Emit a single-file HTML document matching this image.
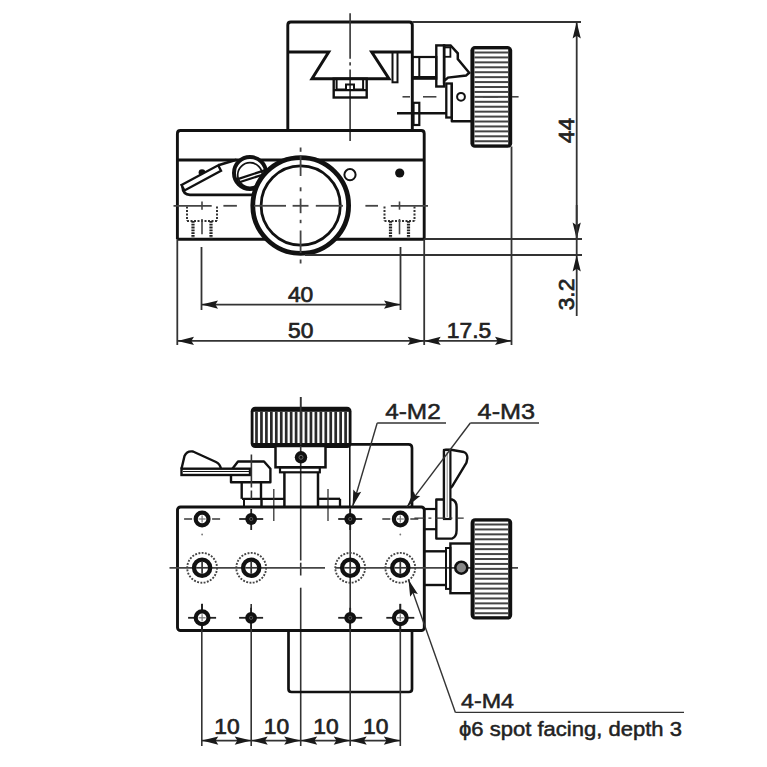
<!DOCTYPE html>
<html><head><meta charset="utf-8"><style>
html,body{margin:0;padding:0;background:#fff;}
svg{display:block;}
text{font-family:"Liberation Sans",sans-serif;}
</style></head><body>
<svg width="767" height="767" viewBox="0 0 767 767">
<rect width="767" height="767" fill="#fff"/>
<path d="M287.8,130.5 V25 Q287.8,22 290.8,22 H409.3 Q412.3,22 412.3,25 V130.5" stroke="#111" stroke-width="2.9" fill="none" stroke-linejoin="round" />
<line x1="412.3" y1="22" x2="581" y2="22" stroke="#333" stroke-width="1.8" stroke-linecap="butt"/>
<line x1="350.1" y1="13.2" x2="350.1" y2="58.8" stroke="#333" stroke-width="1.6" stroke-linecap="butt"/>
<line x1="350.1" y1="62.3" x2="350.1" y2="65.5" stroke="#333" stroke-width="1.6" stroke-linecap="butt"/>
<line x1="350.1" y1="69.5" x2="350.1" y2="141" stroke="#333" stroke-width="1.6" stroke-linecap="butt"/>
<polyline points="287.8,52 328.7,52 312,78.7 389,78.7 371.7,52 412.3,52" stroke="#111" stroke-width="3" fill="none" stroke-linejoin="miter"/>
<rect x="333.7" y="78.7" width="33.0" height="18.799999999999997" rx="0" stroke="#111" stroke-width="2.4" fill="none"/>
<line x1="333.7" y1="90.2" x2="366.7" y2="90.2" stroke="#111" stroke-width="2.2" stroke-linecap="butt"/>
<line x1="336.6" y1="78.7" x2="336.6" y2="90" stroke="#111" stroke-width="2" stroke-linecap="butt"/>
<line x1="363.1" y1="78.7" x2="363.1" y2="90" stroke="#111" stroke-width="2" stroke-linecap="butt"/>
<polyline points="336.6,89.5 346,89.5 346,84.5 354,84.5 354,89.5 363.1,89.5" stroke="#111" stroke-width="2" fill="none" stroke-linejoin="miter"/>
<rect x="392.5" y="52" width="5.0" height="30.299999999999997" rx="0" stroke="#111" stroke-width="2" fill="none"/>
<rect x="412.3" y="57" width="24.0" height="21.700000000000003" rx="0" stroke="#111" stroke-width="2.2" fill="none"/>
<line x1="419.3" y1="57" x2="419.3" y2="78.7" stroke="#111" stroke-width="2" stroke-linecap="butt"/>
<line x1="412.3" y1="77.5" x2="436.3" y2="77.5" stroke="#111" stroke-width="3" stroke-linecap="butt"/>
<rect x="436.3" y="45.4" width="7.800000000000011" height="41.1" rx="0" stroke="#111" stroke-width="2.4" fill="none"/>
<polygon points="444.1,45.4 450.6,45.4 457.8,53.3 457.8,59.1 469.2,72.8 466,75.6 448,77.6 444.1,81" stroke="#111" stroke-width="2.5" fill="none" stroke-linejoin="miter"/>
<rect x="444.1" y="47.4" width="6.2999999999999545" height="9.399999999999999" rx="0" stroke="#111" stroke-width="1.8" fill="none"/>
<rect x="446.3" y="83.5" width="5.5" height="34.0" rx="0" stroke="#111" stroke-width="2.3" fill="none"/>
<path d="M451.8,84 V121.3 H471.5" stroke="#111" stroke-width="2.4" fill="none" stroke-linejoin="round" />
<circle cx="461" cy="96.8" r="3.9" stroke="#111" stroke-width="2" fill="none"/>
<rect x="413.5" y="102.8" width="5.800000000000011" height="22.200000000000003" rx="0" stroke="#111" stroke-width="2.2" fill="none"/>
<line x1="397" y1="113.2" x2="446.7" y2="113.2" stroke="#111" stroke-width="2.4" stroke-linecap="butt"/>
<rect x="470.4" y="46.1" width="41.80000000000007" height="101.6" rx="4.5" fill="#111"/>
<rect x="474.4" y="49.4" width="33.80000000000007" height="95.0" fill="#fff"/>
<rect x="474.4" y="51.50" width="33.80000000000007" height="2" fill="#444"/>
<rect x="474.4" y="56.43" width="33.80000000000007" height="2" fill="#444"/>
<rect x="474.4" y="61.36" width="33.80000000000007" height="2" fill="#444"/>
<rect x="474.4" y="66.29" width="33.80000000000007" height="2" fill="#444"/>
<rect x="474.4" y="71.22" width="33.80000000000007" height="2" fill="#444"/>
<rect x="474.4" y="76.15" width="33.80000000000007" height="2" fill="#444"/>
<rect x="474.4" y="81.08" width="33.80000000000007" height="2" fill="#444"/>
<rect x="474.4" y="86.01" width="33.80000000000007" height="2" fill="#444"/>
<rect x="474.4" y="90.94" width="33.80000000000007" height="2" fill="#444"/>
<rect x="474.4" y="95.87" width="33.80000000000007" height="2" fill="#444"/>
<rect x="474.4" y="100.80" width="33.80000000000007" height="2" fill="#444"/>
<rect x="474.4" y="105.73" width="33.80000000000007" height="2" fill="#444"/>
<rect x="474.4" y="110.66" width="33.80000000000007" height="2" fill="#444"/>
<rect x="474.4" y="115.59" width="33.80000000000007" height="2" fill="#444"/>
<rect x="474.4" y="120.52" width="33.80000000000007" height="2" fill="#444"/>
<rect x="474.4" y="125.45" width="33.80000000000007" height="2" fill="#444"/>
<rect x="474.4" y="130.38" width="33.80000000000007" height="2" fill="#444"/>
<rect x="474.4" y="135.31" width="33.80000000000007" height="2" fill="#444"/>
<rect x="474.4" y="140.24" width="33.80000000000007" height="2" fill="#444"/>
<line x1="402.5" y1="96.8" x2="410" y2="96.8" stroke="#444" stroke-width="1.6" stroke-linecap="butt"/>
<line x1="423" y1="96.8" x2="436.4" y2="96.8" stroke="#444" stroke-width="1.6" stroke-linecap="butt"/>
<line x1="483" y1="96.8" x2="498" y2="96.8" stroke="#444" stroke-width="1.6" stroke-linecap="butt"/>
<line x1="512" y1="96.8" x2="518.6" y2="96.8" stroke="#444" stroke-width="1.6" stroke-linecap="butt"/>
<line x1="511.5" y1="146.5" x2="511.5" y2="345" stroke="#333" stroke-width="1.8" stroke-linecap="butt"/>
<path d="M177.4,239 V133.5 Q177.4,130.5 180.4,130.5 H421.2 Q424.2,130.5 424.2,133.5 V239" stroke="#111" stroke-width="2.9" fill="none" stroke-linejoin="round" />
<line x1="177.4" y1="239.2" x2="424.2" y2="239.2" stroke="#111" stroke-width="2.9" stroke-linecap="butt"/>
<line x1="424.2" y1="239" x2="582" y2="239" stroke="#333" stroke-width="1.8" stroke-linecap="butt"/>
<line x1="177.4" y1="160" x2="424.2" y2="160" stroke="#111" stroke-width="2.9" stroke-linecap="butt"/>
<line x1="177.3" y1="239" x2="177.3" y2="345" stroke="#333" stroke-width="1.8" stroke-linecap="butt"/>
<line x1="424.2" y1="239" x2="424.2" y2="345" stroke="#333" stroke-width="1.8" stroke-linecap="butt"/>
<path d="M182.5,186.5 Q183,194.8 190,194.8 H255" stroke="#111" stroke-width="2.8" fill="none" stroke-linejoin="round" />
<line x1="218.3" y1="165.2" x2="236.5" y2="159.8" stroke="#111" stroke-width="2.7" stroke-linecap="butt"/>
<circle cx="202" cy="172.6" r="3.4" fill="#111"/>
<polygon points="181.5,185 218.2,165.3 221,170.8 184.5,190.5" stroke="#111" stroke-width="2.4" fill="#fff" stroke-linejoin="miter"/>
<circle cx="250" cy="173" r="16" stroke="#111" stroke-width="4" fill="#fff"/>
<circle cx="250" cy="175" r="12.3" stroke="#111" stroke-width="1.7" fill="none"/>
<line x1="236.2" y1="179.6" x2="264.5" y2="170.4" stroke="#111" stroke-width="2.3" stroke-linecap="butt"/>
<line x1="237" y1="183" x2="265" y2="174" stroke="#111" stroke-width="2.3" stroke-linecap="butt"/>
<line x1="187" y1="206.5" x2="187" y2="221" stroke="#333" stroke-width="2" stroke-linecap="butt" stroke-dasharray="2 1.5"/>
<line x1="217" y1="206.5" x2="217" y2="221" stroke="#333" stroke-width="2" stroke-linecap="butt" stroke-dasharray="2 1.5"/>
<line x1="187" y1="221" x2="217" y2="221" stroke="#333" stroke-width="2" stroke-linecap="butt" stroke-dasharray="2 1.5"/>
<line x1="193" y1="221" x2="193" y2="239" stroke="#222" stroke-width="3.2" stroke-linecap="butt" stroke-dasharray="1.8 1"/>
<line x1="211" y1="221" x2="211" y2="239" stroke="#222" stroke-width="3.2" stroke-linecap="butt" stroke-dasharray="1.8 1"/>
<line x1="202" y1="201.5" x2="202" y2="209.7" stroke="#444" stroke-width="1.6" stroke-linecap="butt"/>
<line x1="202" y1="219" x2="202" y2="234.3" stroke="#444" stroke-width="1.6" stroke-linecap="butt"/>
<line x1="384.5" y1="206.5" x2="384.5" y2="221" stroke="#333" stroke-width="2" stroke-linecap="butt" stroke-dasharray="2 1.5"/>
<line x1="414.5" y1="206.5" x2="414.5" y2="221" stroke="#333" stroke-width="2" stroke-linecap="butt" stroke-dasharray="2 1.5"/>
<line x1="384.5" y1="221" x2="414.5" y2="221" stroke="#333" stroke-width="2" stroke-linecap="butt" stroke-dasharray="2 1.5"/>
<line x1="390.5" y1="221" x2="390.5" y2="239" stroke="#222" stroke-width="3.2" stroke-linecap="butt" stroke-dasharray="1.8 1"/>
<line x1="408.5" y1="221" x2="408.5" y2="239" stroke="#222" stroke-width="3.2" stroke-linecap="butt" stroke-dasharray="1.8 1"/>
<line x1="399.5" y1="201.5" x2="399.5" y2="209.7" stroke="#444" stroke-width="1.6" stroke-linecap="butt"/>
<line x1="399.5" y1="219" x2="399.5" y2="234.3" stroke="#444" stroke-width="1.6" stroke-linecap="butt"/>
<line x1="173.5" y1="205.8" x2="211.7" y2="205.8" stroke="#444" stroke-width="1.8" stroke-linecap="butt"/>
<line x1="223.4" y1="205.8" x2="236.9" y2="205.8" stroke="#444" stroke-width="1.8" stroke-linecap="butt"/>
<line x1="365.4" y1="205.8" x2="378" y2="205.8" stroke="#444" stroke-width="1.8" stroke-linecap="butt"/>
<line x1="390.8" y1="205.8" x2="428" y2="205.8" stroke="#444" stroke-width="1.8" stroke-linecap="butt"/>
<circle cx="300.7" cy="205.5" r="47.9" stroke="#111" stroke-width="4.8" fill="#fff"/>
<circle cx="300.7" cy="205.5" r="39.6" stroke="#111" stroke-width="2.8" fill="none"/>
<line x1="300.6" y1="147.5" x2="300.6" y2="151.8" stroke="#444" stroke-width="1.8" stroke-linecap="butt"/>
<line x1="300.6" y1="156" x2="300.6" y2="176" stroke="#444" stroke-width="1.8" stroke-linecap="butt"/>
<line x1="300.6" y1="187.3" x2="300.6" y2="191.3" stroke="#444" stroke-width="1.8" stroke-linecap="butt"/>
<line x1="300.6" y1="198.6" x2="300.6" y2="213.2" stroke="#444" stroke-width="1.8" stroke-linecap="butt"/>
<line x1="300.6" y1="219.8" x2="300.6" y2="223.2" stroke="#444" stroke-width="1.8" stroke-linecap="butt"/>
<line x1="300.6" y1="230.5" x2="300.6" y2="253" stroke="#444" stroke-width="1.8" stroke-linecap="butt"/>
<line x1="300.6" y1="259.5" x2="300.6" y2="263.5" stroke="#444" stroke-width="1.8" stroke-linecap="butt"/>
<line x1="254" y1="205.8" x2="286" y2="205.8" stroke="#444" stroke-width="1.8" stroke-linecap="butt"/>
<line x1="292.6" y1="205.8" x2="308.5" y2="205.8" stroke="#444" stroke-width="1.8" stroke-linecap="butt"/>
<line x1="315.8" y1="205.8" x2="343" y2="205.8" stroke="#444" stroke-width="1.8" stroke-linecap="butt"/>
<line x1="305" y1="255" x2="582" y2="255" stroke="#333" stroke-width="1.8" stroke-linecap="butt"/>
<circle cx="350" cy="174.7" r="5.6" stroke="#111" stroke-width="2" fill="#fff"/>
<circle cx="399.7" cy="173" r="4.6" fill="#111"/>
<line x1="201.5" y1="247" x2="201.5" y2="310" stroke="#333" stroke-width="1.8" stroke-linecap="butt"/>
<line x1="400.5" y1="247" x2="400.5" y2="310" stroke="#333" stroke-width="1.8" stroke-linecap="butt"/>
<line x1="201.5" y1="304.6" x2="400.5" y2="304.6" stroke="#333" stroke-width="1.8" stroke-linecap="butt"/>
<polygon points="201.50,304.60 218.00,300.50 215.36,304.60 218.00,308.70" fill="#1a1a1a"/>
<polygon points="400.50,304.60 384.00,308.70 386.64,304.60 384.00,300.50" fill="#1a1a1a"/>
<text x="300.6" y="301.6" font-size="22.8" text-anchor="middle" fill="#222" stroke="#222" stroke-width="0.7" >40</text>
<line x1="177.5" y1="340.9" x2="511.5" y2="340.9" stroke="#333" stroke-width="1.8" stroke-linecap="butt"/>
<polygon points="177.50,340.90 194.00,336.80 191.36,340.90 194.00,345.00" fill="#1a1a1a"/>
<polygon points="424.20,340.90 407.70,345.00 410.34,340.90 407.70,336.80" fill="#1a1a1a"/>
<polygon points="424.20,340.90 440.70,336.80 438.06,340.90 440.70,345.00" fill="#1a1a1a"/>
<polygon points="511.50,340.90 495.00,345.00 497.64,340.90 495.00,336.80" fill="#1a1a1a"/>
<text x="300.8" y="337.9" font-size="22.8" text-anchor="middle" fill="#222" stroke="#222" stroke-width="0.7" >50</text>
<text x="469" y="337.6" font-size="22.8" text-anchor="middle" fill="#222" stroke="#222" stroke-width="0.7" >17.5</text>
<line x1="576.7" y1="22" x2="576.7" y2="239" stroke="#333" stroke-width="1.8" stroke-linecap="butt"/>
<polygon points="576.70,22.00 580.80,38.50 576.70,35.86 572.60,38.50" fill="#1a1a1a"/>
<polygon points="576.70,239.00 572.60,222.50 576.70,225.14 580.80,222.50" fill="#1a1a1a"/>
<text x="573.6" y="130.5" font-size="22.8" text-anchor="middle" fill="#222" stroke="#222" stroke-width="0.7" transform="rotate(-90 573.6 130.5)" >44</text>
<line x1="576.7" y1="205" x2="576.7" y2="316" stroke="#333" stroke-width="1.8" stroke-linecap="butt"/>
<polygon points="576.70,255.00 580.80,271.50 576.70,268.86 572.60,271.50" fill="#1a1a1a"/>
<text x="573.6" y="294.5" font-size="22.8" text-anchor="middle" fill="#222" stroke="#222" stroke-width="0.7" transform="rotate(-90 573.6 294.5)" >3.2</text>
<line x1="300.7" y1="397" x2="300.7" y2="560.5" stroke="#333" stroke-width="1.6" stroke-linecap="butt"/>
<line x1="300.7" y1="562.7" x2="300.7" y2="575.5" stroke="#333" stroke-width="1.6" stroke-linecap="butt"/>
<line x1="300.7" y1="587.7" x2="300.7" y2="746" stroke="#333" stroke-width="1.6" stroke-linecap="butt"/>
<rect x="250.7" y="406.8" width="100.80000000000001" height="41.19999999999999" rx="4.5" fill="#111"/>
<rect x="253.5" y="411.8" width="95.20000000000002" height="31.19999999999999" fill="#fff"/>
<rect x="255.15" y="411.8" width="2.7" height="31.19999999999999" fill="#2a2a2a"/>
<rect x="260.10" y="411.8" width="2.7" height="31.19999999999999" fill="#2a2a2a"/>
<rect x="265.05" y="411.8" width="2.7" height="31.19999999999999" fill="#2a2a2a"/>
<rect x="270.00" y="411.8" width="2.7" height="31.19999999999999" fill="#2a2a2a"/>
<rect x="274.95" y="411.8" width="2.7" height="31.19999999999999" fill="#2a2a2a"/>
<rect x="279.90" y="411.8" width="2.7" height="31.19999999999999" fill="#2a2a2a"/>
<rect x="284.85" y="411.8" width="2.7" height="31.19999999999999" fill="#2a2a2a"/>
<rect x="289.80" y="411.8" width="2.7" height="31.19999999999999" fill="#2a2a2a"/>
<rect x="294.75" y="411.8" width="2.7" height="31.19999999999999" fill="#2a2a2a"/>
<rect x="299.70" y="411.8" width="2.7" height="31.19999999999999" fill="#2a2a2a"/>
<rect x="304.65" y="411.8" width="2.7" height="31.19999999999999" fill="#2a2a2a"/>
<rect x="309.60" y="411.8" width="2.7" height="31.19999999999999" fill="#2a2a2a"/>
<rect x="314.55" y="411.8" width="2.7" height="31.19999999999999" fill="#2a2a2a"/>
<rect x="319.50" y="411.8" width="2.7" height="31.19999999999999" fill="#2a2a2a"/>
<rect x="324.45" y="411.8" width="2.7" height="31.19999999999999" fill="#2a2a2a"/>
<rect x="329.40" y="411.8" width="2.7" height="31.19999999999999" fill="#2a2a2a"/>
<rect x="334.35" y="411.8" width="2.7" height="31.19999999999999" fill="#2a2a2a"/>
<rect x="339.30" y="411.8" width="2.7" height="31.19999999999999" fill="#2a2a2a"/>
<rect x="344.25" y="411.8" width="2.7" height="31.19999999999999" fill="#2a2a2a"/>
<line x1="300.7" y1="397" x2="300.7" y2="447" stroke="#333" stroke-width="1.6" stroke-linecap="butt"/>
<path d="M349.8,444.3 H408.5 Q412,444.3 412,448 V507" stroke="#111" stroke-width="2.7" fill="none" stroke-linejoin="round" />
<line x1="349.8" y1="446" x2="349.8" y2="507" stroke="#111" stroke-width="1.6" stroke-linecap="butt"/>
<rect x="275.5" y="446" width="50.0" height="21.30000000000001" rx="0" stroke="#111" stroke-width="2.5" fill="#fff"/>
<line x1="300.7" y1="446" x2="300.7" y2="452" stroke="#333" stroke-width="1.6" stroke-linecap="butt"/>
<line x1="300.7" y1="462" x2="300.7" y2="467" stroke="#333" stroke-width="1.6" stroke-linecap="butt"/>
<circle cx="301" cy="457.3" r="6.2" fill="#111"/>
<circle cx="301" cy="457.3" r="2" stroke="#777" stroke-width="0.8" fill="none"/>
<rect x="280" y="467.3" width="39.80000000000001" height="5.0" rx="0" stroke="#111" stroke-width="2.2" fill="none"/>
<line x1="284.4" y1="472.3" x2="284.4" y2="507" stroke="#111" stroke-width="2.5" stroke-linecap="butt"/>
<line x1="318" y1="472.3" x2="318" y2="507" stroke="#111" stroke-width="2.5" stroke-linecap="butt"/>
<line x1="242" y1="498.8" x2="284.4" y2="498.8" stroke="#111" stroke-width="2.3" stroke-linecap="butt"/>
<line x1="318" y1="498.8" x2="340" y2="498.8" stroke="#111" stroke-width="2.3" stroke-linecap="butt"/>
<line x1="340" y1="498.8" x2="340" y2="507" stroke="#111" stroke-width="2.3" stroke-linecap="butt"/>
<line x1="261.5" y1="498.8" x2="261.5" y2="507" stroke="#111" stroke-width="2.5" stroke-linecap="butt"/>
<line x1="244" y1="498.8" x2="244" y2="507" stroke="#111" stroke-width="2" stroke-linecap="butt"/>
<line x1="273.8" y1="489" x2="273.8" y2="521" stroke="#333" stroke-width="1.3" stroke-linecap="butt"/>
<line x1="328" y1="489" x2="328" y2="521" stroke="#333" stroke-width="1.3" stroke-linecap="butt"/>
<path d="M181.5,468.7 L184.5,456 Q187,450.5 193,451.5 L216,462 Q220,464 221,468.7" stroke="#111" stroke-width="2.4" fill="#fff" stroke-linejoin="round" />
<rect x="181.5" y="468.7" width="68.5" height="6.300000000000011" rx="0" stroke="#111" stroke-width="2.4" fill="#fff"/>
<line x1="183" y1="471.5" x2="250" y2="471.5" stroke="#111" stroke-width="1.2" stroke-linecap="butt"/>
<path d="M232.4,468.7 L238,461.5 H264 L270.4,468.7 V482.3 H231 V475" stroke="#111" stroke-width="2.4" fill="none" stroke-linejoin="round" />
<line x1="241.7" y1="482.3" x2="241.7" y2="498.8" stroke="#111" stroke-width="2.4" stroke-linecap="butt"/>
<line x1="261" y1="482.3" x2="261" y2="498.8" stroke="#111" stroke-width="2.4" stroke-linecap="butt"/>
<line x1="251.4" y1="454.5" x2="251.4" y2="487.5" stroke="#333" stroke-width="1.6" stroke-linecap="butt"/>
<line x1="251.4" y1="490.5" x2="251.4" y2="499" stroke="#333" stroke-width="1.6" stroke-linecap="butt"/>
<rect x="177.5" y="507" width="246.8" height="123.5" rx="3" stroke="#111" stroke-width="2.9" fill="none"/>
<path d="M288.5,630.5 V689 Q288.5,692 291.5,692 H409 Q412,692 412,689 V630.5" stroke="#111" stroke-width="2.7" fill="none" stroke-linejoin="round" />
<line x1="169.5" y1="567.8" x2="325" y2="567.8" stroke="#444" stroke-width="1.8" stroke-linecap="butt"/>
<line x1="335" y1="567.8" x2="518" y2="567.8" stroke="#444" stroke-width="1.8" stroke-linecap="butt"/>
<line x1="350.2" y1="508" x2="350.2" y2="746" stroke="#333" stroke-width="1.6" stroke-linecap="butt"/>
<line x1="201.8" y1="604" x2="201.8" y2="746" stroke="#333" stroke-width="1.6" stroke-linecap="butt"/>
<line x1="251.2" y1="604" x2="251.2" y2="746" stroke="#333" stroke-width="1.6" stroke-linecap="butt"/>
<line x1="400.3" y1="604" x2="400.3" y2="746" stroke="#333" stroke-width="1.6" stroke-linecap="butt"/>
<line x1="184.1" y1="519" x2="192.1" y2="519" stroke="#444" stroke-width="1.6" stroke-linecap="butt"/>
<line x1="212.1" y1="519" x2="220.1" y2="519" stroke="#444" stroke-width="1.6" stroke-linecap="butt"/>
<circle cx="202.1" cy="534.5" r="0.9" fill="#777"/>
<circle cx="202.1" cy="519" r="6.4" stroke="#111" stroke-width="4.2" fill="#fff"/>
<line x1="198.6" y1="519" x2="205.6" y2="519" stroke="#777" stroke-width="1.2" stroke-linecap="butt"/>
<line x1="202.1" y1="515.5" x2="202.1" y2="522.5" stroke="#777" stroke-width="1.2" stroke-linecap="butt"/>
<line x1="239.2" y1="519" x2="263.2" y2="519" stroke="#222" stroke-width="1.8" stroke-linecap="butt"/>
<line x1="251.2" y1="509" x2="251.2" y2="530" stroke="#222" stroke-width="1.8" stroke-linecap="butt"/>
<circle cx="251.2" cy="519" r="5.9" fill="#111"/>
<circle cx="251.2" cy="519" r="1.6" stroke="#666" stroke-width="0.8" fill="none"/>
<line x1="338.2" y1="519" x2="362.2" y2="519" stroke="#222" stroke-width="1.8" stroke-linecap="butt"/>
<line x1="350.2" y1="509" x2="350.2" y2="530" stroke="#222" stroke-width="1.8" stroke-linecap="butt"/>
<circle cx="350.2" cy="519" r="5.9" fill="#111"/>
<circle cx="350.2" cy="519" r="1.6" stroke="#666" stroke-width="0.8" fill="none"/>
<line x1="382.3" y1="519" x2="390.3" y2="519" stroke="#444" stroke-width="1.6" stroke-linecap="butt"/>
<line x1="410.3" y1="519" x2="418.3" y2="519" stroke="#444" stroke-width="1.6" stroke-linecap="butt"/>
<circle cx="400.3" cy="534.5" r="0.9" fill="#777"/>
<circle cx="400.3" cy="519" r="6.4" stroke="#111" stroke-width="4.2" fill="#fff"/>
<line x1="396.8" y1="519" x2="403.8" y2="519" stroke="#777" stroke-width="1.2" stroke-linecap="butt"/>
<line x1="400.3" y1="515.5" x2="400.3" y2="522.5" stroke="#777" stroke-width="1.2" stroke-linecap="butt"/>
<line x1="188.1" y1="617.8" x2="216.1" y2="617.8" stroke="#222" stroke-width="1.8" stroke-linecap="butt"/>
<line x1="202.1" y1="603.8" x2="202.1" y2="630.8" stroke="#222" stroke-width="1.8" stroke-linecap="butt"/>
<circle cx="202.1" cy="617.8" r="6.4" stroke="#111" stroke-width="4.2" fill="#fff"/>
<line x1="198.6" y1="617.8" x2="205.6" y2="617.8" stroke="#777" stroke-width="1.2" stroke-linecap="butt"/>
<line x1="202.1" y1="614.3" x2="202.1" y2="621.3" stroke="#777" stroke-width="1.2" stroke-linecap="butt"/>
<line x1="239.1" y1="617.8" x2="263.1" y2="617.8" stroke="#222" stroke-width="1.8" stroke-linecap="butt"/>
<line x1="251.1" y1="607.8" x2="251.1" y2="628.8" stroke="#222" stroke-width="1.8" stroke-linecap="butt"/>
<circle cx="251.1" cy="617.8" r="5.9" fill="#111"/>
<circle cx="251.1" cy="617.8" r="1.6" stroke="#666" stroke-width="0.8" fill="none"/>
<line x1="338.2" y1="617.8" x2="362.2" y2="617.8" stroke="#222" stroke-width="1.8" stroke-linecap="butt"/>
<line x1="350.2" y1="607.8" x2="350.2" y2="628.8" stroke="#222" stroke-width="1.8" stroke-linecap="butt"/>
<circle cx="350.2" cy="617.8" r="5.9" fill="#111"/>
<circle cx="350.2" cy="617.8" r="1.6" stroke="#666" stroke-width="0.8" fill="none"/>
<line x1="386.3" y1="617.8" x2="414.3" y2="617.8" stroke="#222" stroke-width="1.8" stroke-linecap="butt"/>
<line x1="400.3" y1="603.8" x2="400.3" y2="630.8" stroke="#222" stroke-width="1.8" stroke-linecap="butt"/>
<circle cx="400.3" cy="617.8" r="6.4" stroke="#111" stroke-width="4.2" fill="#fff"/>
<line x1="396.8" y1="617.8" x2="403.8" y2="617.8" stroke="#777" stroke-width="1.2" stroke-linecap="butt"/>
<line x1="400.3" y1="614.3" x2="400.3" y2="621.3" stroke="#777" stroke-width="1.2" stroke-linecap="butt"/>
<circle cx="202.1" cy="567.8" r="14.9" stroke="#444" stroke-width="1.9" fill="none" stroke-dasharray="1.9 1.4"/>
<circle cx="202.1" cy="567.8" r="8.1" stroke="#111" stroke-width="4.3" fill="#fff"/>
<line x1="196.1" y1="567.8" x2="208.1" y2="567.8" stroke="#333" stroke-width="1.7" stroke-linecap="butt"/>
<line x1="202.1" y1="561.8" x2="202.1" y2="573.8" stroke="#333" stroke-width="1.7" stroke-linecap="butt"/>
<circle cx="251.2" cy="567.8" r="14.9" stroke="#444" stroke-width="1.9" fill="none" stroke-dasharray="1.9 1.4"/>
<circle cx="251.2" cy="567.8" r="8.1" stroke="#111" stroke-width="4.3" fill="#fff"/>
<line x1="245.2" y1="567.8" x2="257.2" y2="567.8" stroke="#333" stroke-width="1.7" stroke-linecap="butt"/>
<line x1="251.2" y1="561.8" x2="251.2" y2="573.8" stroke="#333" stroke-width="1.7" stroke-linecap="butt"/>
<circle cx="350.2" cy="567.8" r="14.9" stroke="#444" stroke-width="1.9" fill="none" stroke-dasharray="1.9 1.4"/>
<circle cx="350.2" cy="567.8" r="8.1" stroke="#111" stroke-width="4.3" fill="#fff"/>
<line x1="344.2" y1="567.8" x2="356.2" y2="567.8" stroke="#333" stroke-width="1.7" stroke-linecap="butt"/>
<line x1="350.2" y1="561.8" x2="350.2" y2="573.8" stroke="#333" stroke-width="1.7" stroke-linecap="butt"/>
<circle cx="400.3" cy="567.8" r="14.9" stroke="#444" stroke-width="1.9" fill="none" stroke-dasharray="1.9 1.4"/>
<circle cx="400.3" cy="567.8" r="8.1" stroke="#111" stroke-width="4.3" fill="#fff"/>
<line x1="394.3" y1="567.8" x2="406.3" y2="567.8" stroke="#333" stroke-width="1.7" stroke-linecap="butt"/>
<line x1="400.3" y1="561.8" x2="400.3" y2="573.8" stroke="#333" stroke-width="1.7" stroke-linecap="butt"/>
<line x1="424.3" y1="509" x2="436.3" y2="509" stroke="#111" stroke-width="2.2" stroke-linecap="butt"/>
<line x1="424.3" y1="529.2" x2="436.3" y2="529.2" stroke="#111" stroke-width="2.2" stroke-linecap="butt"/>
<path d="M436.3,499.5 H452 Q456.6,501 456.6,507 V530 Q456.6,537 452,538.6 H436.3 Z" stroke="#111" stroke-width="2.4" fill="#fff" stroke-linejoin="round" />
<path d="M444,519 V451 Q444,449.8 446,449.8 H451 L463.8,452 Q467.4,453.5 467.4,458 L466.5,462.6 L452.9,485.2 L450.8,488" stroke="#111" stroke-width="2.4" fill="none" stroke-linejoin="round" />
<rect x="444" y="450" width="6.399999999999977" height="69" rx="0" stroke="#111" stroke-width="2.2" fill="#fff"/>
<line x1="447.2" y1="452" x2="447.2" y2="517" stroke="#888" stroke-width="1" stroke-linecap="butt"/>
<line x1="414.4" y1="518.2" x2="463.7" y2="518.2" stroke="#333" stroke-width="1.3" stroke-linecap="butt" stroke-dasharray="10 4 3 4"/>
<line x1="424.3" y1="551.3" x2="446" y2="551.3" stroke="#111" stroke-width="2.4" stroke-linecap="butt"/>
<line x1="424.3" y1="585" x2="446" y2="585" stroke="#111" stroke-width="2.4" stroke-linecap="butt"/>
<rect x="446" y="548" width="4.399999999999977" height="40.89999999999998" rx="0" stroke="#111" stroke-width="2" fill="none"/>
<rect x="450.4" y="543.5" width="21.100000000000023" height="49.700000000000045" rx="0" stroke="#111" stroke-width="2.4" fill="none"/>
<circle cx="461.3" cy="567.7" r="6" stroke="#111" stroke-width="2.6" fill="#888"/>
<rect x="470.6" y="518.3" width="41.60000000000002" height="101.20000000000005" rx="4.5" fill="#111"/>
<rect x="474.6" y="521.5999999999999" width="33.60000000000002" height="94.60000000000005" fill="#fff"/>
<rect x="474.6" y="523.50" width="33.60000000000002" height="2" fill="#444"/>
<rect x="474.6" y="528.43" width="33.60000000000002" height="2" fill="#444"/>
<rect x="474.6" y="533.36" width="33.60000000000002" height="2" fill="#444"/>
<rect x="474.6" y="538.29" width="33.60000000000002" height="2" fill="#444"/>
<rect x="474.6" y="543.22" width="33.60000000000002" height="2" fill="#444"/>
<rect x="474.6" y="548.15" width="33.60000000000002" height="2" fill="#444"/>
<rect x="474.6" y="553.08" width="33.60000000000002" height="2" fill="#444"/>
<rect x="474.6" y="558.01" width="33.60000000000002" height="2" fill="#444"/>
<rect x="474.6" y="562.94" width="33.60000000000002" height="2" fill="#444"/>
<rect x="474.6" y="567.87" width="33.60000000000002" height="2" fill="#444"/>
<rect x="474.6" y="572.80" width="33.60000000000002" height="2" fill="#444"/>
<rect x="474.6" y="577.73" width="33.60000000000002" height="2" fill="#444"/>
<rect x="474.6" y="582.66" width="33.60000000000002" height="2" fill="#444"/>
<rect x="474.6" y="587.59" width="33.60000000000002" height="2" fill="#444"/>
<rect x="474.6" y="592.52" width="33.60000000000002" height="2" fill="#444"/>
<rect x="474.6" y="597.45" width="33.60000000000002" height="2" fill="#444"/>
<rect x="474.6" y="602.38" width="33.60000000000002" height="2" fill="#444"/>
<rect x="474.6" y="607.31" width="33.60000000000002" height="2" fill="#444"/>
<rect x="474.6" y="612.24" width="33.60000000000002" height="2" fill="#444"/>
<line x1="377.2" y1="423" x2="446" y2="423" stroke="#333" stroke-width="1.3" stroke-linecap="butt"/>
<line x1="377.2" y1="423" x2="352.6" y2="506.5" stroke="#333" stroke-width="1.4" stroke-linecap="butt"/>
<polygon points="352.60,506.50 353.33,489.51 356.52,493.20 361.20,491.83" fill="#1a1a1a"/>
<text x="385.2" y="419" font-size="22" text-anchor="start" fill="#222" stroke="#222" stroke-width="0.5" textLength="55.5" lengthAdjust="spacingAndGlyphs">4-M2</text>
<line x1="470.3" y1="423" x2="539" y2="423" stroke="#333" stroke-width="1.3" stroke-linecap="butt"/>
<line x1="470.3" y1="423" x2="407" y2="506.8" stroke="#333" stroke-width="1.4" stroke-linecap="butt"/>
<polygon points="407.00,506.80 413.67,491.16 415.35,495.74 420.22,496.11" fill="#1a1a1a"/>
<text x="477.6" y="419" font-size="22" text-anchor="start" fill="#222" stroke="#222" stroke-width="0.5" textLength="57.5" lengthAdjust="spacingAndGlyphs">4-M3</text>
<line x1="408.5" y1="579.8" x2="455.4" y2="712.4" stroke="#333" stroke-width="1.4" stroke-linecap="butt"/>
<polygon points="408.50,579.80 417.87,593.99 413.12,592.87 410.14,596.72" fill="#1a1a1a"/>
<line x1="455.4" y1="712.4" x2="684" y2="712.4" stroke="#333" stroke-width="1.3" stroke-linecap="butt"/>
<text x="461" y="708.4" font-size="20" text-anchor="start" fill="#222" stroke="#222" stroke-width="0.5" textLength="53" lengthAdjust="spacingAndGlyphs">4-M4</text>
<text x="459" y="735.8" font-size="20.5" text-anchor="start" fill="#222" stroke="#222" stroke-width="0.5" textLength="223" lengthAdjust="spacingAndGlyphs">ϕ6 spot facing, depth 3</text>
<line x1="201.8" y1="740.6" x2="400.3" y2="740.6" stroke="#333" stroke-width="1.6" stroke-linecap="butt"/>
<polygon points="201.80,740.60 218.30,736.50 215.66,740.60 218.30,744.70" fill="#1a1a1a"/>
<polygon points="251.20,740.60 234.70,744.70 237.34,740.60 234.70,736.50" fill="#1a1a1a"/>
<text x="227.0" y="733.8" font-size="22.8" text-anchor="middle" fill="#222" stroke="#222" stroke-width="0.7" >10</text>
<polygon points="251.20,740.60 267.70,736.50 265.06,740.60 267.70,744.70" fill="#1a1a1a"/>
<polygon points="300.70,740.60 284.20,744.70 286.84,740.60 284.20,736.50" fill="#1a1a1a"/>
<text x="276.45" y="733.8" font-size="22.8" text-anchor="middle" fill="#222" stroke="#222" stroke-width="0.7" >10</text>
<polygon points="300.70,740.60 317.20,736.50 314.56,740.60 317.20,744.70" fill="#1a1a1a"/>
<polygon points="350.20,740.60 333.70,744.70 336.34,740.60 333.70,736.50" fill="#1a1a1a"/>
<text x="325.95" y="733.8" font-size="22.8" text-anchor="middle" fill="#222" stroke="#222" stroke-width="0.7" >10</text>
<polygon points="350.20,740.60 366.70,736.50 364.06,740.60 366.70,744.70" fill="#1a1a1a"/>
<polygon points="400.30,740.60 383.80,744.70 386.44,740.60 383.80,736.50" fill="#1a1a1a"/>
<text x="375.75" y="733.8" font-size="22.8" text-anchor="middle" fill="#222" stroke="#222" stroke-width="0.7" >10</text>
</svg>
</body></html>
